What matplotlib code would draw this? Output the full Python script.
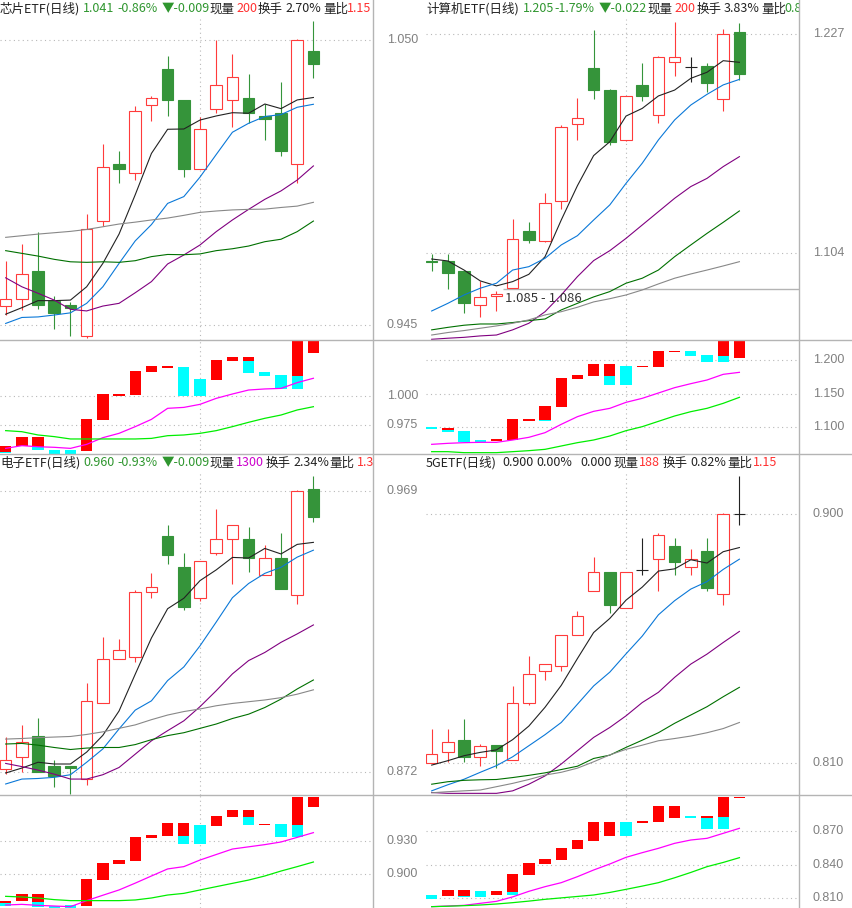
import numpy as np
import matplotlib
matplotlib.use("Agg")
import matplotlib.pyplot as plt
from matplotlib.patches import Rectangle
from matplotlib.lines import Line2D
from matplotlib.transforms import blended_transform_factory

plt.rcParams['font.family'] = ['Noto Sans CJK SC', 'DejaVu Sans']

# ---------------- 芯片ETF ----------------
xp_open = [0.9522, 0.9545, 0.9649, 0.9538, 0.9524, 0.9408, 0.9832, 1.0043, 1.0011, 1.0259,
           1.0393, 1.0279, 1.0024, 1.0247, 1.0278, 1.0286, 1.0220, 1.0231, 1.0042, 1.0459]
xp_high = [0.9687, 0.9748, 0.9793, 0.9557, 0.9535, 0.9859, 1.0117, 1.0091, 1.0257, 1.0294,
           1.0441, 1.0279, 1.0215, 1.0498, 1.0448, 1.0376, 1.0265, 1.0345, 1.0505, 1.0570]
xp_low = [0.9487, 0.9505, 0.9508, 0.9434, 0.9411, 0.9401, 0.9815, 0.9974, 0.9984, 1.0203,
          1.0220, 0.9997, 1.0024, 1.0232, 1.0181, 1.0193, 1.0132, 1.0074, 0.9974, 1.0358]
xp_close = [0.9545, 0.9637, 0.9524, 0.9495, 0.9514, 0.9802, 1.0032, 1.0026, 1.0238, 1.0285,
            1.0279, 1.0025, 1.0171, 1.0333, 1.0362, 1.0231, 1.0210, 1.0091, 1.0500, 1.0410]
xp_ma5 = [0.9490, 0.9514, 0.9540, 0.9540, 0.9542, 0.9591, 0.9677, 0.9785, 0.9930, 1.0082,
          1.0171, 1.0172, 1.0205, 1.0220, 1.0232, 1.0230, 1.0264, 1.0247, 1.0279, 1.0288]
xp_ma10 = [0.9456, 0.9478, 0.9480, 0.9487, 0.9495, 0.9530, 0.9591, 0.9677, 0.9760, 0.9820,
           0.9898, 0.9923, 0.9995, 1.0078, 1.0160, 1.0193, 1.0218, 1.0225, 1.0252, 1.0263]
xp_ma20 = [0.9624, 0.9591, 0.9567, 0.9542, 0.9508, 0.9502, 0.9520, 0.9530, 0.9569, 0.9610,
           0.9675, 0.9708, 0.9745, 0.9794, 0.9837, 0.9876, 0.9913, 0.9944, 0.9984, 1.0036]
xp_ma30 = [0.9724, 0.9714, 0.9704, 0.9692, 0.9683, 0.9681, 0.9683, 0.9681, 0.9687, 0.9702,
           0.9710, 0.9709, 0.9712, 0.9724, 0.9731, 0.9741, 0.9757, 0.9766, 0.9794, 0.9833]
xp_ma60 = [0.9773, 0.9779, 0.9785, 0.9790, 0.9795, 0.9802, 0.9812, 0.9822, 0.9829, 0.9837,
           0.9844, 0.9854, 0.9865, 0.9870, 0.9874, 0.9876, 0.9877, 0.9883, 0.9888, 0.9902]
xp_tw_top = [0.9574, 0.9654, 0.9654, 0.9543, 0.9540, 0.9804, 1.0017, 1.0017, 1.0213, 1.0256,
             1.0256, 1.0247, 1.0145, 1.0307, 1.0332, 1.0332, 1.0204, 1.0179, 1.0500, 1.0500]
xp_tw_mid = [0.9526, 0.9574, 0.9568, 0.9543, 0.9540, 0.9534, 0.9796, 1.0000, 1.0009, 1.0207,
             1.0236, 1.0247, 1.0145, 1.0136, 1.0301, 1.0301, 1.0204, 1.0179, 1.0170, 1.0369]
xp_tw_bot = [0.9512, 0.9574, 0.9540, 0.9490, 0.9490, 0.9534, 0.9796, 1.0000, 1.0009, 1.0207,
             1.0236, 1.0000, 1.0000, 1.0136, 1.0301, 1.0196, 1.0170, 1.0062, 1.0062, 1.0369]
xp_tw_ma1 = [0.9554, 0.9577, 0.9568, 0.9563, 0.9554, 0.9588, 0.9645, 0.9682, 0.9739, 0.9801,
             0.9895, 0.9903, 0.9929, 0.9980, 1.0017, 1.0051, 1.0060, 1.0065, 1.0114, 1.0151]
xp_tw_ma2 = [0.9705, 0.9696, 0.9668, 0.9654, 0.9634, 0.9634, 0.9634, 0.9634, 0.9634, 0.9639,
             0.9662, 0.9668, 0.9682, 0.9705, 0.9739, 0.9776, 0.9810, 0.9838, 0.9881, 0.9909]
xp_title = [("芯片ETF(日线)", "dark"), ("1.041", "green"), ("-0.86%", "green"), ("▼-0.009", "green"),
            ("现量", "dark"), ("200", "red"), ("换手", "dark"), ("2.70%", "dark"),
            ("量比", "dark"), ("1.15", "red")]

# ---------------- 计算机ETF ----------------
jsj_open = [1.0999, 1.0997, 1.0941, 1.0748, 1.0799, 1.0844, 1.1166, 1.1111, 1.1332, 1.1765,
            1.2081, 1.1957, 1.1675, 1.1985, 1.1815, 1.2117, 1.2088, 1.2090, 1.1905, 1.2283]
jsj_high = [1.1036, 1.1036, 1.0941, 1.0887, 1.0829, 1.1233, 1.1216, 1.1381, 1.1759, 1.1912,
            1.2294, 1.1965, 1.1922, 1.2111, 1.2150, 1.2337, 1.2141, 1.2107, 1.2300, 1.2334]
jsj_low = [1.0943, 1.0838, 1.0707, 1.0684, 1.0718, 1.0844, 1.1096, 1.1106, 1.1289, 1.1677,
           1.1909, 1.1649, 1.1671, 1.1898, 1.1770, 1.2038, 1.2000, 1.1946, 1.1841, 1.2014]
jsj_close = [1.0990, 1.0932, 1.0763, 1.0793, 1.0812, 1.1119, 1.1117, 1.1321, 1.1750, 1.1798,
             1.1959, 1.1667, 1.1922, 1.1926, 1.2141, 1.2141, 1.2088, 1.1999, 1.2270, 1.2050]
jsj_ma5 = [1.1008, 1.0997, 1.0946, 1.0885, 1.0857, 1.0881, 1.0922, 1.1021, 1.1227, 1.1420,
           1.1589, 1.1667, 1.1811, 1.1854, 1.1924, 1.1957, 1.2023, 1.2057, 1.2122, 1.2113]
jsj_ma10 = [1.0716, 1.0759, 1.0806, 1.0844, 1.0872, 1.0946, 1.0965, 1.1012, 1.1087, 1.1139,
            1.1227, 1.1312, 1.1433, 1.1546, 1.1677, 1.1789, 1.1873, 1.1933, 1.1986, 1.2017]
jsj_ma20 = [1.0557, 1.0563, 1.0568, 1.0576, 1.0581, 1.0610, 1.0647, 1.0712, 1.0806, 1.0909,
            1.0999, 1.1055, 1.1124, 1.1199, 1.1274, 1.1349, 1.1415, 1.1461, 1.1527, 1.1583]
jsj_ma30 = [1.0610, 1.0624, 1.0636, 1.0643, 1.0643, 1.0651, 1.0662, 1.0671, 1.0722, 1.0759,
            1.0795, 1.0825, 1.0872, 1.0900, 1.0946, 1.1021, 1.1087, 1.1152, 1.1214, 1.1278]
jsj_ma60 = [1.0581, 1.0595, 1.0606, 1.0619, 1.0632, 1.0647, 1.0666, 1.0694, 1.0712, 1.0737,
            1.0767, 1.0785, 1.0806, 1.0834, 1.0868, 1.0900, 1.0924, 1.0946, 1.0969, 1.0993]
jsj_tw_top = [1.1000, 1.0990, 1.0940, 1.0805, 1.0820, 1.1120, 1.1120, 1.1315, 1.1740, 1.1780,
              1.1945, 1.1945, 1.1915, 1.1915, 1.2145, 1.2140, 1.2145, 1.2080, 1.2300, 1.2300]
jsj_tw_mid = [1.1000, 1.0960, 1.0940, 1.0805, 1.0790, 1.0805, 1.1090, 1.1105, 1.1305, 1.1725,
              1.1770, 1.1770, 1.1915, 1.1900, 1.1900, 1.2125, 1.2145, 1.2080, 1.2065, 1.2040]
jsj_tw_bot = [1.0965, 1.0930, 1.0775, 1.0775, 1.0790, 1.0805, 1.1090, 1.1090, 1.1305, 1.1725,
              1.1770, 1.1630, 1.1630, 1.1900, 1.1900, 1.2125, 1.2070, 1.1980, 1.1980, 1.2040]
jsj_tw_ma1 = [1.0740, 1.0755, 1.0765, 1.0770, 1.0770, 1.0805, 1.0845, 1.0915, 1.1040, 1.1155,
              1.1235, 1.1280, 1.1370, 1.1430, 1.1510, 1.1590, 1.1650, 1.1705, 1.1790, 1.1820]
jsj_tw_ma2 = [1.0630, 1.0630, 1.0615, 1.0615, 1.0615, 1.0630, 1.0645, 1.0665, 1.0715, 1.0765,
              1.0805, 1.0865, 1.0945, 1.1005, 1.1085, 1.1165, 1.1230, 1.1280, 1.1355, 1.1445]
jsj_title = [("计算机ETF(日线)", "dark"), ("1.205", "green"), ("-1.79%", "green"), ("▼-0.022", "green"),
             ("现量", "dark"), ("200", "red"), ("换手", "dark"), ("3.83%", "dark"),
             ("量比", "dark"), ("0.87", "green")]
jsj_range_price = 1.0840
jsj_range_text = "1.085 - 1.086"

# ---------------- 电子ETF ----------------
dz_open = [0.8731, 0.8772, 0.8844, 0.8741, 0.8741, 0.8697, 0.8958, 0.9110, 0.9119, 0.9341,
           0.9536, 0.9429, 0.9321, 0.9476, 0.9524, 0.9526, 0.9400, 0.9460, 0.9331, 0.9698]
dz_high = [0.8841, 0.8883, 0.8908, 0.8763, 0.8741, 0.9028, 0.9186, 0.9180, 0.9349, 0.9408,
           0.9574, 0.9477, 0.9448, 0.9630, 0.9574, 0.9568, 0.9505, 0.9546, 0.9695, 0.9743]
dz_low = [0.8714, 0.8720, 0.8720, 0.8668, 0.8645, 0.8677, 0.8958, 0.9110, 0.9102, 0.9322,
          0.9439, 0.9280, 0.9313, 0.9471, 0.9370, 0.9413, 0.9400, 0.9354, 0.9301, 0.9585]
dz_close = [0.8763, 0.8824, 0.8720, 0.8706, 0.8734, 0.8967, 0.9111, 0.9141, 0.9341, 0.9359,
            0.9471, 0.9292, 0.9448, 0.9524, 0.9574, 0.9460, 0.9459, 0.9354, 0.9690, 0.9600]
dz_ma5 = [0.8718, 0.8735, 0.8755, 0.8749, 0.8749, 0.8790, 0.8848, 0.8932, 0.9059, 0.9184,
          0.9285, 0.9321, 0.9382, 0.9419, 0.9462, 0.9460, 0.9493, 0.9474, 0.9507, 0.9514]
dz_ma10 = [0.8680, 0.8697, 0.8699, 0.8703, 0.8712, 0.8755, 0.8801, 0.8870, 0.8935, 0.8967,
           0.9037, 0.9084, 0.9157, 0.9239, 0.9323, 0.9372, 0.9407, 0.9428, 0.9463, 0.9487]
dz_ma20 = [0.8751, 0.8740, 0.8728, 0.8714, 0.8697, 0.8697, 0.8712, 0.8737, 0.8783, 0.8829,
           0.8864, 0.8898, 0.8947, 0.9002, 0.9060, 0.9106, 0.9134, 0.9169, 0.9198, 0.9229]
dz_ma30 = [0.8818, 0.8820, 0.8814, 0.8806, 0.8799, 0.8804, 0.8806, 0.8806, 0.8816, 0.8833,
           0.8847, 0.8857, 0.8872, 0.8887, 0.8906, 0.8921, 0.8944, 0.8973, 0.9008, 0.9039]
dz_ma60 = [0.8835, 0.8837, 0.8840, 0.8842, 0.8844, 0.8851, 0.8860, 0.8872, 0.8884, 0.8902,
           0.8918, 0.8930, 0.8939, 0.8950, 0.8958, 0.8964, 0.8970, 0.8978, 0.8990, 0.9005]
dz_tw_top = [0.8758, 0.8821, 0.8821, 0.8715, 0.8724, 0.8958, 0.9103, 0.9130, 0.9342, 0.9358,
             0.9467, 0.9467, 0.9448, 0.9530, 0.9585, 0.9585, 0.9458, 0.9458, 0.9706, 0.9706]
dz_tw_mid = [0.8736, 0.8755, 0.8746, 0.8715, 0.8724, 0.8715, 0.8949, 0.9094, 0.9124, 0.9330,
             0.9352, 0.9352, 0.9448, 0.9442, 0.9524, 0.9524, 0.9448, 0.9458, 0.9451, 0.9609]
dz_tw_bot = [0.8715, 0.8755, 0.8700, 0.8680, 0.8680, 0.8715, 0.8949, 0.9094, 0.9124, 0.9330,
             0.9352, 0.9276, 0.9276, 0.9442, 0.9524, 0.9448, 0.9448, 0.9342, 0.9342, 0.9609]
dz_tw_ma1 = [0.8721, 0.8727, 0.8718, 0.8712, 0.8706, 0.8761, 0.8810, 0.8858, 0.8920, 0.8985,
             0.9049, 0.9070, 0.9130, 0.9180, 0.9230, 0.9250, 0.9270, 0.9294, 0.9336, 0.9379]
dz_tw_ma2 = [0.8800, 0.8794, 0.8785, 0.8770, 0.8761, 0.8761, 0.8761, 0.8761, 0.8767, 0.8785,
             0.8812, 0.8827, 0.8858, 0.8888, 0.8918, 0.8948, 0.8985, 0.9030, 0.9070, 0.9112]
dz_title = [("电子ETF(日线)", "dark"), ("0.960", "green"), ("-0.93%", "green"), ("▼-0.009", "green"),
            ("现量", "dark"), ("1300", "magenta"), ("换手", "dark"), ("2.34%", "dark"),
            ("量比", "dark"), ("1.32", "red")]

# ---------------- 5GETF ----------------
g5_open = [0.8100, 0.8143, 0.8184, 0.8122, 0.8166, 0.8111, 0.8320, 0.8433, 0.8451, 0.8563,
           0.8722, 0.8790, 0.8660, 0.8798, 0.8837, 0.8886, 0.8808, 0.8866, 0.8712, 0.9000]
g5_high = [0.8224, 0.8224, 0.8260, 0.8172, 0.8166, 0.8381, 0.8488, 0.8461, 0.8563, 0.8652,
           0.8847, 0.8790, 0.8790, 0.8914, 0.8933, 0.8914, 0.8875, 0.8914, 0.9005, 0.9139]
g5_low = [0.8100, 0.8104, 0.8104, 0.8092, 0.8082, 0.8111, 0.8312, 0.8401, 0.8435, 0.8563,
          0.8722, 0.8645, 0.8660, 0.8782, 0.8724, 0.8782, 0.8782, 0.8724, 0.8674, 0.8963]
g5_close = [0.8134, 0.8176, 0.8124, 0.8164, 0.8146, 0.8320, 0.8422, 0.8461, 0.8563, 0.8631,
            0.8790, 0.8674, 0.8790, 0.8798, 0.8924, 0.8829, 0.8837, 0.8733, 0.9000, 0.9000]
g5_ma5 = [0.8094, 0.8110, 0.8128, 0.8140, 0.8149, 0.8186, 0.8235, 0.8303, 0.8382, 0.8479,
          0.8573, 0.8624, 0.8690, 0.8737, 0.8795, 0.8803, 0.8836, 0.8824, 0.8865, 0.8880]
g5_ma10 = [0.8001, 0.8023, 0.8043, 0.8068, 0.8092, 0.8124, 0.8164, 0.8204, 0.8248, 0.8314,
           0.8380, 0.8430, 0.8496, 0.8560, 0.8637, 0.8688, 0.8730, 0.8757, 0.8801, 0.8838]
g5_ma20 = [0.7995, 0.7992, 0.7992, 0.7992, 0.7992, 0.8001, 0.8025, 0.8055, 0.8098, 0.8146,
           0.8194, 0.8230, 0.8272, 0.8320, 0.8357, 0.8411, 0.8459, 0.8495, 0.8537, 0.8577]
g5_ma30 = [0.8025, 0.8034, 0.8039, 0.8041, 0.8042, 0.8049, 0.8057, 0.8066, 0.8078, 0.8090,
           0.8118, 0.8130, 0.8158, 0.8184, 0.8211, 0.8245, 0.8275, 0.8305, 0.8341, 0.8375]
g5_ma60 = [0.7994, 0.7998, 0.8001, 0.8004, 0.8016, 0.8028, 0.8042, 0.8058, 0.8068, 0.8083,
           0.8106, 0.8131, 0.8151, 0.8166, 0.8182, 0.8190, 0.8199, 0.8211, 0.8226, 0.8248]
g5_tw_top = [0.8127, 0.8172, 0.8172, 0.8163, 0.8163, 0.8316, 0.8415, 0.8451, 0.8550, 0.8622,
             0.8784, 0.8784, 0.8784, 0.8793, 0.8928, 0.8928, 0.8838, 0.8838, 0.9012, 0.9012]
g5_tw_mid = [0.8127, 0.8118, 0.8118, 0.8163, 0.8127, 0.8154, 0.8310, 0.8406, 0.8442, 0.8541,
             0.8613, 0.8658, 0.8784, 0.8775, 0.8784, 0.8820, 0.8838, 0.8820, 0.8829, 0.9003]
g5_tw_bot = [0.8091, 0.8118, 0.8106, 0.8106, 0.8127, 0.8127, 0.8310, 0.8406, 0.8442, 0.8541,
             0.8613, 0.8658, 0.8658, 0.8775, 0.8784, 0.8820, 0.8820, 0.8721, 0.8721, 0.9003]
g5_tw_ma1 = [0.8022, 0.8028, 0.8034, 0.8052, 0.8070, 0.8110, 0.8160, 0.8202, 0.8238, 0.8292,
             0.8352, 0.8406, 0.8466, 0.8508, 0.8547, 0.8592, 0.8622, 0.8637, 0.8682, 0.8727]
g5_tw_ma2 = [0.8022, 0.8026, 0.8031, 0.8037, 0.8046, 0.8058, 0.8072, 0.8088, 0.8101, 0.8114,
             0.8127, 0.8150, 0.8178, 0.8207, 0.8238, 0.8282, 0.8330, 0.8382, 0.8420, 0.8463]
g5_title = [("5GETF(日线)", "dark"), ("0.900", "dark"), ("0.00%", "dark"), ("0.000", "dark"),
            ("现量", "dark"), ("188", "red"), ("换手", "dark"), ("0.82%", "dark"),
            ("量比", "dark"), ("1.15", "red")]

# ---------------- styling / layout ----------------
W, H = 852, 908
PLOT_W = 373
C_UP = '#ff3b3b'
C_DN = '#35943a'
TXT = {'dark': '#222222', 'green': '#2f962f', 'red': '#ff3030', 'magenta': '#cc00cc'}
MA_COLORS = ['#222222', '#0a78d8', '#800080', '#007000', '#888888']
GRID = '#b8b8b8'
SEP = '#b4b4b4'
X0, X1 = -0.35, 22.68
BW = 0.72

fig = plt.figure(figsize=(W / 100, H / 100), dpi=100)
fig.patch.set_facecolor('white')


def px_axes(x, y, w, h):
    ax = fig.add_axes([x / W, 1 - (y + h) / H, w / W, h / H])
    ax.set_xlim(X0, X1)
    ax.set_axis_off()
    return ax


def price_labels(ax, values):
    tr = blended_transform_factory(ax.transAxes, ax.transData)
    for v in values:
        ax.axhline(v, color=GRID, lw=0.8, ls=(0, (1, 3)), zorder=0)
        ax.text(418 / PLOT_W, v, f"{v:.3f}", transform=tr, ha='right', va='center',
                color='#808080', fontsize=9, family='Liberation Sans')


def draw_panel(px, py, main_h, tw_h, p):
    ax = px_axes(px, py, PLOT_W, main_h)
    at = px_axes(px, py + main_h, PLOT_W, tw_h)
    ax.set_ylim(*p['main_lim'])
    at.set_ylim(*p['tw_lim'])
    x = np.arange(len(p['close']))

    # candles
    for i in x:
        o, h, l, c = p['open'][i], p['high'][i], p['low'][i], p['close'][i]
        if c > o:
            ax.vlines(i, c, h, color=C_UP, lw=0.8, zorder=2)
            ax.vlines(i, l, o, color=C_UP, lw=0.8, zorder=2)
            ax.add_patch(Rectangle((i - BW / 2, o), BW, c - o, facecolor='white',
                                   edgecolor=C_UP, lw=0.8, zorder=2))
        elif c < o:
            ax.vlines(i, l, h, color=C_DN, lw=0.8, zorder=2)
            ax.add_patch(Rectangle((i - BW / 2, c), BW, o - c, facecolor=C_DN,
                                   edgecolor=C_DN, lw=0.8, zorder=2))
        else:
            ax.vlines(i, l, h, color='#222222', lw=0.8, zorder=2)
            ax.hlines(c, i - BW / 2, i + BW / 2, color='#222222', lw=0.8, zorder=2)

    for ma, col in zip(p['mas'], MA_COLORS):
        ax.plot(x, ma, color=col, lw=0.8, zorder=3)

    # tower chart
    top, mid, bot = (np.array(p[k]) for k in ('tw_top', 'tw_mid', 'tw_bot'))
    at.bar(x, top - mid, bottom=mid, width=0.7, color='#ff0000', lw=0, zorder=2)
    at.bar(x, mid - bot, bottom=bot, width=0.7, color='#00ffff', lw=0, zorder=2)
    at.plot(x, p['tw_ma1'], color='#ff00ff', lw=0.9, zorder=3)
    at.plot(x, p['tw_ma2'], color='#00ee00', lw=0.9, zorder=3)

    price_labels(ax, p['main_ticks'])
    price_labels(at, p['tw_ticks'])
    ax.axvline(12, ymax=1 - 19 / main_h, color=GRID, lw=0.8, ls=(0, (1, 3)), zorder=0)
    at.axvline(12, color=GRID, lw=0.8, ls=(0, (1, 3)), zorder=0)

    # title line
    ty = 1 - 9 / main_h
    for (s, col), tx in zip(p['title'], p['title_x']):
        ax.text(tx / PLOT_W, ty, s, transform=ax.transAxes, ha='left', va='center',
                color=TXT[col], fontsize=9, clip_on=True, zorder=5)
    return ax


panels = [
    dict(open=xp_open, high=xp_high, low=xp_low, close=xp_close,
         mas=[xp_ma5, xp_ma10, xp_ma20, xp_ma30, xp_ma60],
         tw_top=xp_tw_top, tw_mid=xp_tw_mid, tw_bot=xp_tw_bot, tw_ma1=xp_tw_ma1, tw_ma2=xp_tw_ma2,
         main_lim=(0.9395, 1.0647), tw_lim=(0.9506, 1.0477),
         main_ticks=[1.050, 0.945], tw_ticks=[1.000, 0.975],
         title=xp_title, title_x=[0, 83, 117, 162, 209, 236, 258, 285, 323, 347]),
    dict(open=jsj_open, high=jsj_high, low=jsj_low, close=jsj_close,
         mas=[jsj_ma5, jsj_ma10, jsj_ma20, jsj_ma30, jsj_ma60],
         tw_top=jsj_tw_top, tw_mid=jsj_tw_mid, tw_bot=jsj_tw_bot, tw_ma1=jsj_tw_ma1, tw_ma2=jsj_tw_ma2,
         main_lim=(1.0553, 1.2463), tw_lim=(1.0595, 1.2305),
         main_ticks=[1.227, 1.104], tw_ticks=[1.200, 1.150, 1.100],
         title=jsj_title, title_x=[0, 97, 128, 173, 221, 248, 271, 298, 335, 358]),
    dict(open=dz_open, high=dz_high, low=dz_low, close=dz_close,
         mas=[dz_ma5, dz_ma10, dz_ma20, dz_ma30, dz_ma60],
         tw_top=dz_tw_top, tw_mid=dz_tw_mid, tw_bot=dz_tw_bot, tw_ma1=dz_tw_ma1, tw_ma2=dz_tw_ma2,
         main_lim=(0.8642, 0.9819), tw_lim=(0.8694, 0.9721),
         main_ticks=[0.969, 0.872], tw_ticks=[0.930, 0.900],
         title=dz_title, title_x=[0, 83, 117, 162, 209, 236, 266, 293, 329, 357]),
    dict(open=g5_open, high=g5_high, low=g5_low, close=g5_close,
         mas=[g5_ma5, g5_ma10, g5_ma20, g5_ma30, g5_ma60],
         tw_top=g5_tw_top, tw_mid=g5_tw_mid, tw_bot=g5_tw_bot, tw_ma1=g5_tw_ma1, tw_ma2=g5_tw_ma2,
         main_lim=(0.7986, 0.9218), tw_lim=(0.8010, 0.9027),
         main_ticks=[0.900, 0.810], tw_ticks=[0.870, 0.840, 0.810],
         title=g5_title, title_x=[0, 76, 110, 154, 187, 213, 237, 264, 301, 327]),
]

draw_panel(0, 0, 340, 114, panels[0])
ax_jsj = draw_panel(426, 0, 340, 114, panels[1])
draw_panel(0, 454, 341, 113, panels[2])
draw_panel(426, 454, 341, 113, panels[3])

# price range marker on 计算机ETF
ax_jsj.hlines(jsj_range_price, 4.4, X1, color='#b4b4b4', lw=1.0, zorder=1)
ax_jsj.text(4.5, jsj_range_price - 0.0056, jsj_range_text, ha='left', va='center',
            color='#333333', fontsize=9.5, zorder=5)

# separators
for y in (340, 454, 795):
    fig.add_artist(Line2D([0, 1], [1 - y / H, 1 - y / H], color=SEP, lw=1.0,
                          transform=fig.transFigure))
for xx in (373, 799):
    fig.add_artist(Line2D([xx / W, xx / W], [0, 1], color=SEP, lw=1.0,
                          transform=fig.transFigure))

fig.savefig("out.png", dpi=100, facecolor='white')
